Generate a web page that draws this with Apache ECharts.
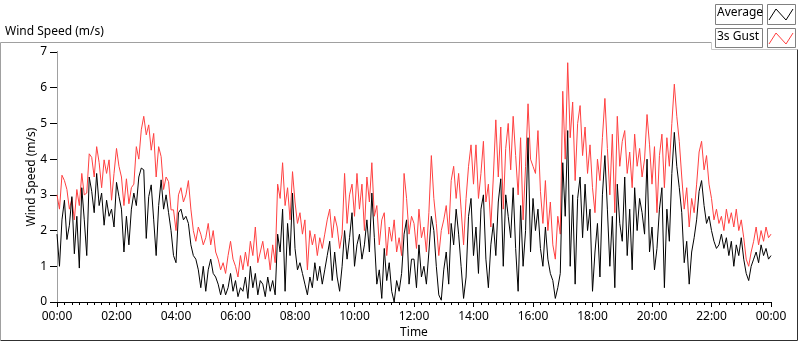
<!DOCTYPE html>
<html>
<head>
<meta charset="utf-8">
<script src="https://cdn.jsdelivr.net/npm/echarts/dist/echarts.min.js"></script>
<style>
  html, body { margin: 0; padding: 0; background: #fff; }
  #chart { width: 800px; height: 342px; }
</style>
</head>
<body>
<div id="chart"></div>
<script>
// samples every 5 minutes, 00:00 .. 24:00
const STEP_MIN = 5

const gust = [
  3.0, 2.6, 3.55, 3.4, 3.15, 2.6, 2.9, 2.3, 3.15, 2.7, 3.6, 3.0,
  3.05, 4.15, 4.05, 3.5, 4.35, 3.9, 3.2, 3.98, 3.6, 3.98, 2.85, 3.6,
  4.3, 3.8, 3.5, 2.7, 3.45, 2.75, 3.2, 3.3, 4.35, 4.0, 4.82, 5.2,
  4.68, 4.96, 4.25, 4.72, 3.5, 4.35, 4.07, 3.15, 3.5, 3.37, 2.58, 2.58,
  2.0, 3.0, 3.2, 2.8, 3.0, 3.4, 2.6, 2.0, 1.7, 2.1, 1.9, 1.6,
  1.8, 2.2, 1.6, 2.0, 1.4, 1.2, 0.9, 1.1, 0.8, 1.3, 1.7, 1.2,
  1.0, 0.7, 1.3, 0.9, 1.4, 1.0, 1.7, 1.3, 2.1, 1.1, 1.4, 1.7,
  1.2, 1.5, 0.9, 1.6, 1.1, 3.3, 2.9, 3.9, 2.7, 3.2, 2.3, 3.65,
  2.8, 2.2, 2.5, 1.9, 2.3, 0.9, 2.0, 1.6, 1.9, 1.3, 1.8, 1.5,
  1.9, 2.3, 2.6, 1.8, 2.4, 2.1, 1.5, 1.9, 3.6, 2.2, 3.0, 3.3,
  2.4, 3.6, 2.6, 3.3, 2.0, 3.5, 2.8, 3.9, 2.4, 2.7, 1.6, 2.3,
  2.5, 1.3, 2.1, 1.7, 2.3, 1.4, 1.8, 1.3, 3.6, 2.9, 1.9, 2.4,
  2.2, 1.5, 2.6, 1.8, 2.1, 1.4, 2.5, 4.1, 2.9, 2.2, 1.3, 2.0,
  2.3, 2.7, 1.9, 3.4, 3.8, 2.9, 3.6, 2.6, 1.6, 2.9, 3.8, 4.4,
  3.3, 4.4, 2.9, 3.6, 4.5, 2.8, 3.3, 2.1, 3.5, 5.1, 3.5, 4.9,
  2.6, 4.3, 5.0, 3.7, 5.2, 4.1, 3.0, 4.6, 2.3, 3.8, 5.55, 4.0,
  3.8, 3.6, 4.8, 3.1, 2.2, 3.4, 2.0, 2.8, 1.6, 1.2, 2.4, 1.9,
  5.9, 4.0, 6.7, 4.6, 5.6, 3.4, 5.0, 5.5, 4.1, 4.9, 3.6, 4.4,
  3.2, 2.5, 4.0, 3.4, 4.6, 5.7, 4.3, 3.0, 4.7, 2.5, 5.2, 3.8,
  4.5, 4.8, 3.6, 4.2, 3.2, 4.7, 3.8, 4.3, 3.5, 4.0, 5.25, 4.4,
  3.3, 4.35, 2.5, 4.1, 4.7, 3.2, 4.6, 3.8, 5.0, 6.1, 5.2, 4.5,
  3.5, 2.6, 3.2, 2.1, 2.9, 2.5, 3.3, 4.2, 4.5, 3.7, 4.1, 3.3,
  2.9, 2.3, 2.6, 2.2, 2.4, 2.0, 2.6, 2.2, 2.5, 2.1, 2.6, 2.0,
  2.3, 1.8, 1.2, 1.0, 1.4, 1.7, 2.1, 1.6, 2.0, 1.7, 2.1, 1.8, 1.9
]

const average = [
  1.9, 1.0, 2.3, 2.85, 1.75, 2.15, 2.95, 1.35, 2.4, 0.95, 3.2, 2.3,
  1.3, 3.5, 3.1, 2.5, 3.6, 2.7, 3.05, 2.15, 2.85, 2.4, 2.6, 2.1,
  3.35, 2.95, 2.6, 1.4, 2.4, 1.6, 2.6, 3.05, 2.7, 3.5, 3.75, 3.7,
  1.78, 2.95, 3.28, 2.3, 1.3, 2.7, 3.42, 2.6, 3.0, 2.5, 2.0, 1.3,
  1.1, 2.5, 2.6, 2.3, 2.4, 2.2, 1.6, 1.3, 1.2, 0.9, 0.4, 1.0,
  0.3, 0.9, 1.2, 0.8, 0.7, 0.5, 0.2, 0.5, 0.2, 0.4, 0.8, 0.3,
  0.6, 0.15, 0.4, 0.3, 0.7, 0.1, 1.0, 0.4, 0.8, 0.2, 0.6, 0.5,
  0.15, 0.7, 0.3, 0.6, 0.2, 1.9, 1.4, 2.6, 0.3, 2.2, 1.3, 3.05,
  1.5, 0.9, 1.1, 0.8, 0.5, 0.2, 0.7, 0.4, 1.1, 0.6, 1.0, 0.5,
  0.9, 1.3, 1.7, 0.6, 1.4, 0.7, 0.3, 1.0, 2.0, 1.2, 1.8, 2.5,
  1.0, 1.6, 1.9, 1.2, 1.6, 2.3, 1.4, 3.05, 1.8, 0.5, 0.9, 0.1,
  1.5, 0.6, 1.1, 0.3, 0.0, 0.6, 0.3, 0.8, 1.9, 2.3, 0.5, 1.2,
  1.2, 0.4, 1.6, 0.7, 1.0, 0.5, 1.4, 2.4, 2.0, 1.0, 0.2, 0.05,
  0.9, 1.4, 0.5, 2.2, 1.6, 2.6, 1.9, 1.0, 0.1, 0.7, 2.4, 2.9,
  1.3, 2.1, 0.8, 2.6, 3.0, 1.2, 0.4, 1.6, 2.2, 1.3, 2.8, 3.45,
  1.0, 3.0, 2.4, 1.8, 3.2, 1.5, 0.3, 2.7, 1.0, 2.0, 4.6, 1.4,
  2.9, 2.0, 2.6, 1.5, 1.0, 2.1, 1.2, 0.8, 0.6, 0.1, 0.4, 0.8,
  3.9, 2.4, 4.8, 1.0, 3.0, 0.5, 2.9, 3.5, 1.8, 3.3, 2.0, 2.6,
  0.3, 1.4, 2.2, 0.7, 3.0, 4.1, 2.6, 1.0, 2.4, 0.4, 3.3, 2.2,
  1.7, 3.5, 1.3, 2.6, 0.9, 3.2, 2.0, 2.9, 2.5, 1.9, 4.0, 1.4,
  2.1, 0.9, 1.5, 2.6, 3.2, 0.4, 2.6, 1.7, 3.6, 4.75, 3.8, 3.2,
  2.5, 1.1, 1.7, 0.5, 1.4, 1.8, 2.3, 3.1, 3.4, 2.7, 2.2, 2.4,
  2.0, 1.7, 1.5, 1.6, 1.9, 1.5, 1.8, 1.3, 1.7, 1.0, 1.6, 1.3,
  1.8, 1.2, 0.8, 0.6, 1.0, 1.2, 1.4, 1.1, 1.6, 1.3, 1.5, 1.2, 1.3
]

const yTicks = [0, 1, 2, 3, 4, 5, 6, 7]

const FONT = 'Noto Sans'
const chart = echarts.init(document.getElementById('chart'))

function hhmm(v) {
  const h = Math.floor(v / 60) % 24
  const m = v % 60
  return String(h).padStart(2, '0') + ':' + String(m).padStart(2, '0')
}

const toPairs = arr => arr.map((v, i) => [i * STEP_MIN, v])

const option = {
  animation: false,
  textStyle: { fontFamily: FONT },
  grid: { left: 57, right: 29, top: 52, bottom: 40, outerBoundsMode: 'none', containLabel: false },
  xAxis: [
    {
      type: 'value',
      min: 0,
      max: 1440,
      interval: 120,
      name: 'Time',
      nameLocation: 'middle',
      nameGap: 25,
      nameMoveOverlap: false,
      nameTextStyle: { color: '#000', fontSize: 12, fontFamily: FONT },
      axisLine: { lineStyle: { color: '#a0a0a0', width: 1 } },
      axisTick: { length: 5, lineStyle: { color: '#000' } },
      minorTick: { show: true, splitNumber: 8, length: 3, lineStyle: { color: '#000' } },
      axisLabel: { formatter: hhmm, color: '#000', fontSize: 12, margin: 9, fontFamily: FONT },
      splitLine: { show: false }
    },
    {
      type: 'value',
      position: 'top',
      min: 0,
      max: 1440,
      axisLine: { show: true, lineStyle: { color: '#000' } },
      axisTick: { show: false },
      axisLabel: { show: false },
      splitLine: { show: false }
    }
  ],
  yAxis: [
    {
      type: 'value',
      min: yTicks[0],
      max: yTicks[yTicks.length - 1],
      interval: 1,
      name: 'Wind Speed (m/s)',
      nameLocation: 'middle',
      nameGap: 19,
      nameMoveOverlap: false,
      nameTextStyle: { color: '#000', fontSize: 12, fontFamily: FONT },
      axisLine: { show: true, lineStyle: { color: '#000' } },
      axisTick: { show: true, length: 7, lineStyle: { color: '#000' } },
      axisLabel: { color: '#000', fontSize: 12, margin: 10, fontFamily: FONT },
      splitLine: { show: false }
    },
    {
      type: 'value',
      position: 'right',
      min: 0,
      max: 7,
      axisLine: { show: true, lineStyle: { color: '#a0a0a0' } },
      axisTick: { show: false },
      axisLabel: { show: false },
      splitLine: { show: false }
    }
  ],
  series: [
    {
      name: '3s Gust',
      type: 'line',
      data: toPairs(gust),
      showSymbol: false,
      lineStyle: { color: '#ff4040', width: 1 },
      itemStyle: { color: '#ff4040' }
    },
    {
      name: 'Average',
      type: 'line',
      data: toPairs(average),
      showSymbol: false,
      lineStyle: { color: '#000', width: 1 },
      itemStyle: { color: '#000' }
    }
  ],
  graphic: [
    // panel frame
    { type: 'polyline', silent: true, shape: { points: [[0.5, 340], [0.5, 42.5], [711.5, 42.5]] },
      style: { stroke: '#a0a0a0', lineWidth: 1, fill: null } },
    { type: 'polyline', silent: true, shape: { points: [[711.5, 42.5], [711.5, 49.5], [797, 49.5]] },
      style: { stroke: '#c8c8c8', lineWidth: 1, fill: null } },
    { type: 'polyline', silent: true, shape: { points: [[797.5, 49.5], [797.5, 340.5], [0.5, 340.5]] },
      style: { stroke: '#303030', lineWidth: 1, fill: null } },
    { type: 'text', silent: true, left: 5, top: 26,
      style: { text: 'Wind Speed (m/s)', font: '12px "Noto Sans"', fill: '#000' } },
    // legend
    { type: 'rect', silent: true, shape: { x: 715.5, y: 4.5, width: 47, height: 20 },
      style: { fill: '#fff', stroke: '#808080', lineWidth: 1 } },
    { type: 'text', silent: true, left: 717, top: 7,
      style: { text: 'Average', font: '12px "Noto Sans"', fill: '#000' } },
    { type: 'rect', silent: true, shape: { x: 767.5, y: 4.5, width: 28, height: 20 },
      style: { fill: '#fff', stroke: '#808080', lineWidth: 1 } },
    { type: 'polyline', silent: true, shape: { points: [[769, 20], [776, 9], [786, 20], [793, 9]] },
      style: { stroke: '#000', lineWidth: 1, fill: null } },
    { type: 'rect', silent: true, shape: { x: 715.5, y: 28.5, width: 47, height: 19 },
      style: { fill: '#fff', stroke: '#808080', lineWidth: 1 } },
    { type: 'text', silent: true, left: 717, top: 31,
      style: { text: '3s Gust', font: '12px "Noto Sans"', fill: '#000' } },
    { type: 'rect', silent: true, shape: { x: 767.5, y: 28.5, width: 28, height: 19 },
      style: { fill: '#fff', stroke: '#808080', lineWidth: 1 } },
    { type: 'polyline', silent: true, shape: { points: [[769, 44], [776, 33], [786, 44], [793, 33]] },
      style: { stroke: '#ff4040', lineWidth: 1, fill: null } }
  ]
}

chart.setOption(option)
</script>
</body>
</html>
